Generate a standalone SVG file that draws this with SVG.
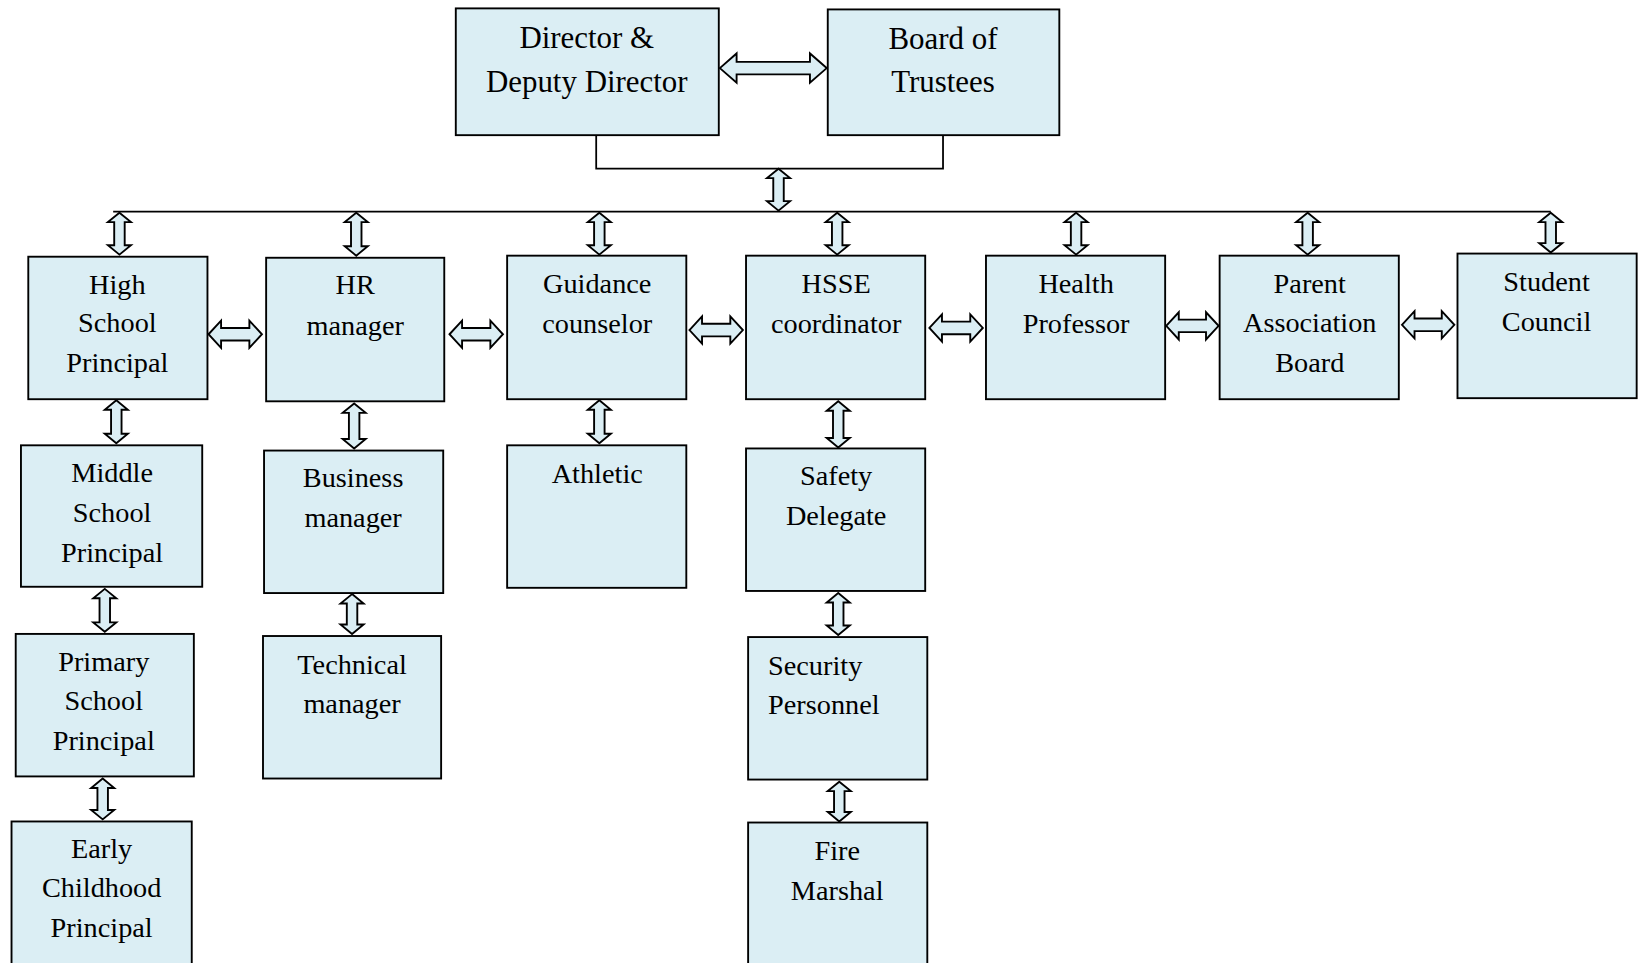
<svg xmlns="http://www.w3.org/2000/svg" width="1643" height="963" viewBox="0 0 1643 963">
<style>
.box{fill:#DBEEF4;stroke:#000;stroke-width:1.8}
.arr{fill:#DBEEF4;stroke:#000;stroke-width:1.8;stroke-linejoin:miter}
.ln{fill:none;stroke:#000;stroke-width:1.7}
text{font-family:"Liberation Serif","Times New Roman",serif;font-size:27px;fill:#000;text-anchor:middle}
.big{font-size:29.5px}
</style>
<rect x="0" y="0" width="1643" height="963" fill="#fff"/>
<g transform="scale(1.0478)">
<g id="connectors">
<path class="ln" d="M569,129 V161 H900 V129"/>
<path class="ln" d="M108,202 H1480"/>
<path class="arr" d="M687,65 L703,51 L703,59 L773,59 L773,51 L789,65 L773,79 L773,71 L703,71 L703,79 Z"/>
<path class="arr" d="M743,161 L754,170 L748,170 L748,192 L754,192 L743,201 L732,192 L738,192 L738,170 L732,170 Z"/>
<path class="arr" d="M114,203 L125,212 L119,212 L119,234 L125,234 L114,243 L103,234 L109,234 L109,212 L103,212 Z"/>
<path class="arr" d="M340,203 L351,212 L345,212 L345,235 L351,235 L340,244 L329,235 L335,235 L335,212 L329,212 Z"/>
<path class="arr" d="M572,203 L583,212 L577,212 L577,234 L583,234 L572,243 L561,234 L567,234 L567,212 L561,212 Z"/>
<path class="arr" d="M799,203 L810,212 L804,212 L804,234 L810,234 L799,243 L788,234 L794,234 L794,212 L788,212 Z"/>
<path class="arr" d="M1027,203 L1038,212 L1032,212 L1032,234 L1038,234 L1027,243 L1016,234 L1022,234 L1022,212 L1016,212 Z"/>
<path class="arr" d="M1248,203 L1259,212 L1253,212 L1253,234 L1259,234 L1248,243 L1237,234 L1243,234 L1243,212 L1237,212 Z"/>
<path class="arr" d="M1480,203 L1491,212 L1485,212 L1485,232 L1491,232 L1480,241 L1469,232 L1475,232 L1475,212 L1469,212 Z"/>
<path class="arr" d="M199,319 L211,306 L211,313 L238,313 L238,306 L250,319 L238,332 L238,325 L211,325 L211,332 Z"/>
<path class="arr" d="M429,319 L441,306 L441,313 L468,313 L468,306 L480,319 L468,332 L468,325 L441,325 L441,332 Z"/>
<path class="arr" d="M658,315 L670,302 L670,309 L697,309 L697,302 L709,315 L697,328 L697,321 L670,321 L670,328 Z"/>
<path class="arr" d="M887,313 L899,300 L899,307 L926,307 L926,300 L938,313 L926,326 L926,319 L899,319 L899,326 Z"/>
<path class="arr" d="M1113,311 L1125,298 L1125,305 L1151,305 L1151,298 L1163,311 L1151,324 L1151,317 L1125,317 L1125,324 Z"/>
<path class="arr" d="M1338,310 L1350,297 L1350,304 L1376,304 L1376,297 L1388,310 L1376,323 L1376,316 L1350,316 L1350,323 Z"/>
<path class="arr" d="M111,382 L122,391 L116,391 L116,414 L122,414 L111,423 L100,414 L106,414 L106,391 L100,391 Z"/>
<path class="arr" d="M338,385 L349,394 L343,394 L343,419 L349,419 L338,428 L327,419 L333,419 L333,394 L327,394 Z"/>
<path class="arr" d="M572,382 L583,391 L577,391 L577,414 L583,414 L572,423 L561,414 L567,414 L567,391 L561,391 Z"/>
<path class="arr" d="M800,383 L811,392 L805,392 L805,418 L811,418 L800,427 L789,418 L795,418 L795,392 L789,392 Z"/>
<path class="arr" d="M100,562 L111,571 L105,571 L105,594 L111,594 L100,603 L89,594 L95,594 L95,571 L89,571 Z"/>
<path class="arr" d="M336,567 L347,576 L341,576 L341,596 L347,596 L336,605 L325,596 L331,596 L331,576 L325,576 Z"/>
<path class="arr" d="M800,566 L811,575 L805,575 L805,597 L811,597 L800,606 L789,597 L795,597 L795,575 L789,575 Z"/>
<path class="arr" d="M98,743 L109,752 L103,752 L103,773 L109,773 L98,782 L87,773 L93,773 L93,752 L87,752 Z"/>
<path class="arr" d="M801,746 L812,755 L806,755 L806,775 L812,775 L801,784 L790,775 L796,775 L796,755 L790,755 Z"/>
</g>
<g id="director"><rect class="box" x="435" y="8" width="251" height="121"/><text class="big" x="560" y="46">Director &amp;</text><text class="big" x="560" y="88">Deputy Director</text></g>
<g id="board"><rect class="box" x="790" y="9" width="221" height="120"/><text class="big" x="900" y="47">Board of</text><text class="big" x="900" y="88">Trustees</text></g>
<g id="high-school"><rect class="box" x="27" y="245" width="171" height="136"/><text x="112" y="281">High</text><text x="112" y="317">School</text><text x="112" y="355">Principal</text></g>
<g id="hr"><rect class="box" x="254" y="246" width="170" height="137"/><text x="339" y="281">HR</text><text x="339" y="320">manager</text></g>
<g id="guidance"><rect class="box" x="484" y="244" width="171" height="137"/><text x="570" y="280">Guidance</text><text x="570" y="318">counselor</text></g>
<g id="hsse"><rect class="box" x="712" y="244" width="171" height="137"/><text x="798" y="280">HSSE</text><text x="798" y="318">coordinator</text></g>
<g id="health"><rect class="box" x="941" y="244" width="171" height="137"/><text x="1027" y="280">Health</text><text x="1027" y="318">Professor</text></g>
<g id="parent"><rect class="box" x="1164" y="244" width="171" height="137"/><text x="1250" y="280">Parent</text><text x="1250" y="317">Association</text><text x="1250" y="355">Board</text></g>
<g id="student"><rect class="box" x="1391" y="242" width="171" height="138"/><text x="1476" y="278">Student</text><text x="1476" y="316">Council</text></g>
<g id="middle-school"><rect class="box" x="20" y="425" width="173" height="135"/><text x="107" y="460">Middle</text><text x="107" y="498">School</text><text x="107" y="536">Principal</text></g>
<g id="business"><rect class="box" x="252" y="430" width="171" height="136"/><text x="337" y="465">Business</text><text x="337" y="503">manager</text></g>
<g id="athletic"><rect class="box" x="484" y="425" width="171" height="136"/><text x="570" y="461">Athletic</text></g>
<g id="safety"><rect class="box" x="712" y="428" width="171" height="136"/><text x="798" y="463">Safety</text><text x="798" y="501">Delegate</text></g>
<g id="primary"><rect class="box" x="15" y="605" width="170" height="136"/><text x="99" y="640">Primary</text><text x="99" y="678">School</text><text x="99" y="716">Principal</text></g>
<g id="technical"><rect class="box" x="251" y="607" width="170" height="136"/><text x="336" y="643">Technical</text><text x="336" y="680">manager</text></g>
<g id="security"><rect class="box" x="714" y="608" width="171" height="136"/><text x="733" y="644" style="text-anchor:start">Security</text><text x="733" y="681" style="text-anchor:start">Personnel</text></g>
<g id="early-childhood"><rect class="box" x="11" y="784" width="172" height="150"/><text x="97" y="819">Early</text><text x="97" y="856">Childhood</text><text x="97" y="894">Principal</text></g>
<g id="fire"><rect class="box" x="714" y="785" width="171" height="150"/><text x="799" y="821">Fire</text><text x="799" y="859">Marshal</text></g>
</g>
</svg>
